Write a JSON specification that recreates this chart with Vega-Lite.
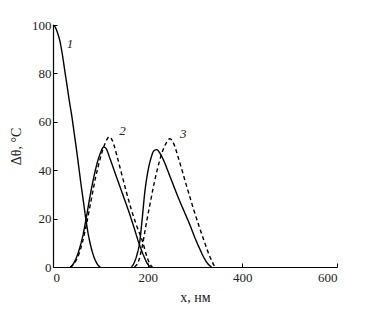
{
  "$schema": "https://vega.github.io/schema/vega-lite/v6.json",
  "width": 284,
  "height": 242,
  "autosize": "none",
  "padding": {"left": 53, "top": 25, "right": 35, "bottom": 42},
  "background": "white",
  "config": {
    "view": {"stroke": null},
    "font": "Liberation Serif",
    "axis": {"grid": false, "domainColor": "black", "tickColor": "black", "labelColor": "#222", "titleColor": "#222", "labelFont": "Liberation Serif", "titleFont": "Liberation Serif", "labelFontSize": 13, "titleFontSize": 14, "titleFontWeight": "normal", "domainWidth": 1.2}
  },
  "datasets": {
    "curves": [
      {"series": "1", "kind": "solid", "x": 0, "y": 100},
      {"series": "1", "kind": "solid", "x": 5, "y": 99},
      {"series": "1", "kind": "solid", "x": 10, "y": 96.5},
      {"series": "1", "kind": "solid", "x": 15, "y": 93},
      {"series": "1", "kind": "solid", "x": 20, "y": 87.5},
      {"series": "1", "kind": "solid", "x": 25, "y": 81},
      {"series": "1", "kind": "solid", "x": 30, "y": 74.5},
      {"series": "1", "kind": "solid", "x": 35, "y": 68},
      {"series": "1", "kind": "solid", "x": 40, "y": 62},
      {"series": "1", "kind": "solid", "x": 45, "y": 55},
      {"series": "1", "kind": "solid", "x": 50, "y": 48},
      {"series": "1", "kind": "solid", "x": 55, "y": 40.5},
      {"series": "1", "kind": "solid", "x": 60, "y": 33},
      {"series": "1", "kind": "solid", "x": 65, "y": 26},
      {"series": "1", "kind": "solid", "x": 70, "y": 19},
      {"series": "1", "kind": "solid", "x": 75, "y": 13},
      {"series": "1", "kind": "solid", "x": 80, "y": 8.5},
      {"series": "1", "kind": "solid", "x": 85, "y": 5},
      {"series": "1", "kind": "solid", "x": 90, "y": 2.5},
      {"series": "1", "kind": "solid", "x": 95, "y": 0.8},
      {"series": "1", "kind": "solid", "x": 100, "y": 0},

      {"series": "2s", "kind": "solid", "x": 38, "y": 0},
      {"series": "2s", "kind": "solid", "x": 45, "y": 2},
      {"series": "2s", "kind": "solid", "x": 55, "y": 7},
      {"series": "2s", "kind": "solid", "x": 62, "y": 12},
      {"series": "2s", "kind": "solid", "x": 70, "y": 20},
      {"series": "2s", "kind": "solid", "x": 78, "y": 29},
      {"series": "2s", "kind": "solid", "x": 85, "y": 36},
      {"series": "2s", "kind": "solid", "x": 92, "y": 42},
      {"series": "2s", "kind": "solid", "x": 100, "y": 47},
      {"series": "2s", "kind": "solid", "x": 107, "y": 49.6},
      {"series": "2s", "kind": "solid", "x": 112, "y": 49},
      {"series": "2s", "kind": "solid", "x": 120, "y": 45},
      {"series": "2s", "kind": "solid", "x": 130, "y": 39.5},
      {"series": "2s", "kind": "solid", "x": 140, "y": 34},
      {"series": "2s", "kind": "solid", "x": 150, "y": 28.5},
      {"series": "2s", "kind": "solid", "x": 160, "y": 23},
      {"series": "2s", "kind": "solid", "x": 170, "y": 17},
      {"series": "2s", "kind": "solid", "x": 183, "y": 9},
      {"series": "2s", "kind": "solid", "x": 193, "y": 4},
      {"series": "2s", "kind": "solid", "x": 200, "y": 1.2},
      {"series": "2s", "kind": "solid", "x": 206, "y": 0},

      {"series": "2d", "kind": "dashed", "x": 36, "y": 0},
      {"series": "2d", "kind": "dashed", "x": 45, "y": 1.5},
      {"series": "2d", "kind": "dashed", "x": 55, "y": 5.5},
      {"series": "2d", "kind": "dashed", "x": 62, "y": 10},
      {"series": "2d", "kind": "dashed", "x": 70, "y": 17},
      {"series": "2d", "kind": "dashed", "x": 80, "y": 27},
      {"series": "2d", "kind": "dashed", "x": 90, "y": 37},
      {"series": "2d", "kind": "dashed", "x": 100, "y": 45},
      {"series": "2d", "kind": "dashed", "x": 110, "y": 51},
      {"series": "2d", "kind": "dashed", "x": 119, "y": 53.8},
      {"series": "2d", "kind": "dashed", "x": 126, "y": 52},
      {"series": "2d", "kind": "dashed", "x": 135, "y": 46},
      {"series": "2d", "kind": "dashed", "x": 145, "y": 38.5},
      {"series": "2d", "kind": "dashed", "x": 155, "y": 31},
      {"series": "2d", "kind": "dashed", "x": 165, "y": 24},
      {"series": "2d", "kind": "dashed", "x": 175, "y": 18},
      {"series": "2d", "kind": "dashed", "x": 190, "y": 10},
      {"series": "2d", "kind": "dashed", "x": 198, "y": 4.5},
      {"series": "2d", "kind": "dashed", "x": 204, "y": 1.5},
      {"series": "2d", "kind": "dashed", "x": 210, "y": 0},

      {"series": "3s", "kind": "solid", "x": 166, "y": 0},
      {"series": "3s", "kind": "solid", "x": 172, "y": 2},
      {"series": "3s", "kind": "solid", "x": 178, "y": 5.5},
      {"series": "3s", "kind": "solid", "x": 183, "y": 10},
      {"series": "3s", "kind": "solid", "x": 188, "y": 19},
      {"series": "3s", "kind": "solid", "x": 194, "y": 31},
      {"series": "3s", "kind": "solid", "x": 200, "y": 39},
      {"series": "3s", "kind": "solid", "x": 207, "y": 45},
      {"series": "3s", "kind": "solid", "x": 213, "y": 48},
      {"series": "3s", "kind": "solid", "x": 219, "y": 48.5},
      {"series": "3s", "kind": "solid", "x": 225, "y": 47.3},
      {"series": "3s", "kind": "solid", "x": 235, "y": 43.5},
      {"series": "3s", "kind": "solid", "x": 245, "y": 38.5},
      {"series": "3s", "kind": "solid", "x": 254, "y": 34},
      {"series": "3s", "kind": "solid", "x": 265, "y": 28.5},
      {"series": "3s", "kind": "solid", "x": 277, "y": 23},
      {"series": "3s", "kind": "solid", "x": 289, "y": 17.5},
      {"series": "3s", "kind": "solid", "x": 300, "y": 12},
      {"series": "3s", "kind": "solid", "x": 310, "y": 7.5},
      {"series": "3s", "kind": "solid", "x": 318, "y": 4.2},
      {"series": "3s", "kind": "solid", "x": 326, "y": 1.6},
      {"series": "3s", "kind": "solid", "x": 335, "y": 0},

      {"series": "3d", "kind": "dashed", "x": 172, "y": 0},
      {"series": "3d", "kind": "dashed", "x": 180, "y": 2},
      {"series": "3d", "kind": "dashed", "x": 188, "y": 8},
      {"series": "3d", "kind": "dashed", "x": 198, "y": 19},
      {"series": "3d", "kind": "dashed", "x": 205, "y": 26},
      {"series": "3d", "kind": "dashed", "x": 212, "y": 33},
      {"series": "3d", "kind": "dashed", "x": 220, "y": 40},
      {"series": "3d", "kind": "dashed", "x": 230, "y": 47},
      {"series": "3d", "kind": "dashed", "x": 240, "y": 51.5},
      {"series": "3d", "kind": "dashed", "x": 247, "y": 53},
      {"series": "3d", "kind": "dashed", "x": 255, "y": 51},
      {"series": "3d", "kind": "dashed", "x": 265, "y": 45},
      {"series": "3d", "kind": "dashed", "x": 277, "y": 37},
      {"series": "3d", "kind": "dashed", "x": 289, "y": 29},
      {"series": "3d", "kind": "dashed", "x": 300, "y": 22},
      {"series": "3d", "kind": "dashed", "x": 310, "y": 16},
      {"series": "3d", "kind": "dashed", "x": 318, "y": 11.5},
      {"series": "3d", "kind": "dashed", "x": 325, "y": 7.5},
      {"series": "3d", "kind": "dashed", "x": 332, "y": 4},
      {"series": "3d", "kind": "dashed", "x": 338, "y": 1.5},
      {"series": "3d", "kind": "dashed", "x": 342, "y": 0}
    ],
    "labels": [
      {"label": "1", "x": 36, "y": 92},
      {"label": "2", "x": 147, "y": 56},
      {"label": "3", "x": 275, "y": 55}
    ]
  },
  "layer": [
    {
      "data": {"name": "curves"},
      "mark": {"type": "line", "color": "black", "strokeWidth": 1.4, "interpolate": "monotone"},
      "encoding": {
        "x": {"field": "x", "type": "quantitative", "scale": {"domain": [0, 600], "nice": false},
          "axis": {"values": [0, 200, 400, 600], "tickSize": -4, "labelPadding": 8, "title": "x, нм", "titlePadding": 6}},
        "y": {"field": "y", "type": "quantitative", "scale": {"domain": [0, 100], "nice": false},
          "axis": {"values": [0, 20, 40, 60, 80, 100], "tickSize": -4, "labelPadding": 6, "title": "Δθ, °C", "titlePadding": 8}},
        "detail": {"field": "series"},
        "strokeDash": {"field": "kind", "type": "nominal", "scale": {"domain": ["solid", "dashed"], "range": [[1, 0], [4, 3]]}, "legend": null}
      }
    },
    {
      "data": {"name": "labels"},
      "mark": {"type": "text", "font": "Liberation Serif", "fontStyle": "italic", "fontSize": 13, "color": "#222"},
      "encoding": {
        "x": {"field": "x", "type": "quantitative"},
        "y": {"field": "y", "type": "quantitative"},
        "text": {"field": "label"}
      }
    }
  ]
}
